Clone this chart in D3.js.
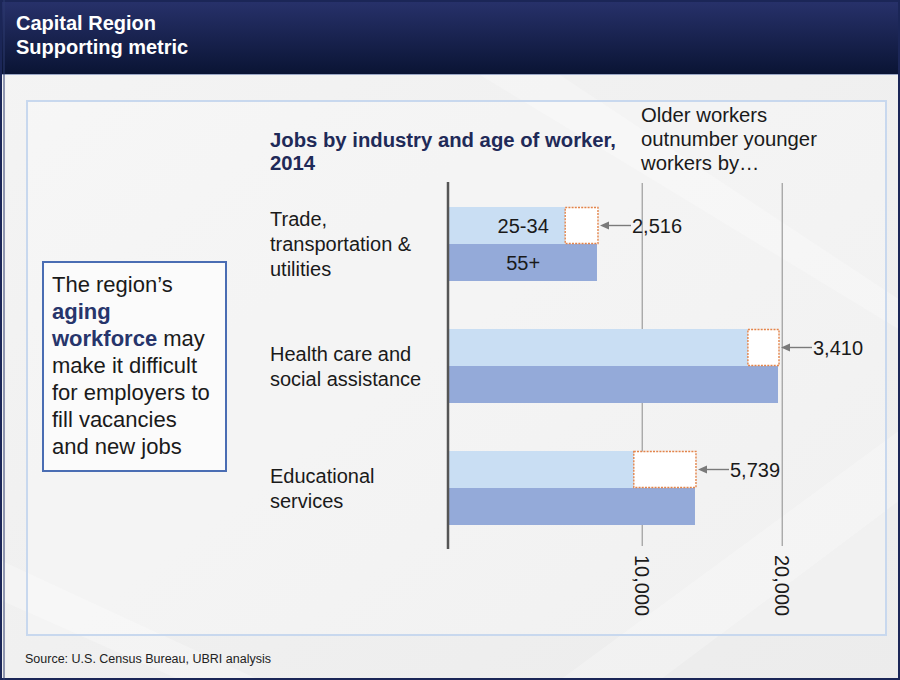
<!DOCTYPE html>
<html>
<head>
<meta charset="utf-8">
<script src="https://cdn.jsdelivr.net/npm/d3@7"></script>
<style>
  body { margin: 0; background: #fff; }
  svg { display: block; font-family: "Liberation Sans", Arial, sans-serif; }
</style>
</head>
<body>
<svg id="chart"></svg>
<script>
// data
const categories = ["Trade", "Health", "Education"];
const categoryLines = [
    ["Trade,", "transportation &", "utilities"],
    ["Health care and", "social assistance"],
    ["Educational", "services"]
];
const ageGroups = ["25-34", "55+"];
const jobsYoung = [4500, 17550, 9400];   // 25-34
const jobsOld = [6770, 19700, 13770];    // 55+
const gaps = [2516, 3410, 5739];
const tickValues = [10000, 20000];
const noteLines = ["Older workers", "outnumber younger", "workers by\u2026"];

const width = 900;
const height = 680;
const navy = "#1f2a58";

const svg = d3.select("#chart")
    .attr("width", width)
    .attr("height", height);

// background
const defs = svg.append("defs");
const hdr = defs.append("linearGradient").attr("id", "hdr")
    .attr("x1", 0).attr("y1", 0).attr("x2", 0).attr("y2", 1);
hdr.append("stop").attr("offset", "0%").attr("stop-color", "#27316a");
hdr.append("stop").attr("offset", "100%").attr("stop-color", "#0a1434");
const bg = defs.append("linearGradient").attr("id", "bg")
    .attr("x1", 0).attr("y1", 0).attr("x2", 1).attr("y2", 1);
bg.append("stop").attr("offset", "0%").attr("stop-color", "#f4f4f4");
bg.append("stop").attr("offset", "100%").attr("stop-color", "#ececec");

svg.append("rect").attr("width", width).attr("height", height).attr("fill", "url(#bg)");

// faint light streaks
const streaks = [
    [[560, 680], [900, 430], [900, 500], [660, 680]],
    [[0, 560], [260, 680], [180, 680], [0, 600]],
    [[480, 75], [900, 330], [900, 300], [560, 75]]
];
svg.selectAll(".streak")
    .data(streaks)
    .enter()
    .append("polygon")
    .attr("points", d => d.map(p => p.join(",")).join(" "))
    .attr("fill", "#ffffff")
    .attr("opacity", 0.25);

// header band
svg.append("rect").attr("x", 0).attr("y", 2).attr("width", width).attr("height", 72)
    .attr("fill", "url(#hdr)");
svg.append("line").attr("x1", 0).attr("x2", width).attr("y1", 74.5).attr("y2", 74.5)
    .attr("stroke", "#9aa6c4").attr("stroke-width", 1);
svg.append("text").attr("x", 16).attr("y", 30)
    .attr("fill", "#fff").attr("font-size", 20).attr("font-weight", "bold")
    .text("Capital Region");
svg.append("text").attr("x", 16).attr("y", 54)
    .attr("fill", "#fff").attr("font-size", 20).attr("font-weight", "bold")
    .text("Supporting metric");

// outer frame
svg.append("rect").attr("x", 1).attr("y", 1).attr("width", width - 2).attr("height", height - 2)
    .attr("fill", "none").attr("stroke", "#1b2657").attr("stroke-width", 2);
svg.append("line").attr("x1", 4).attr("x2", 4).attr("y1", 0).attr("y2", height)
    .attr("stroke", "#2d3a6e").attr("stroke-width", 1);

// inner panel
svg.append("rect").attr("x", 27).attr("y", 101).attr("width", 859).attr("height", 534)
    .attr("fill", "#ffffff").attr("fill-opacity", 0.25)
    .attr("stroke", "#c8d8ee").attr("stroke-width", 2);

// source
svg.append("text").attr("x", 25).attr("y", 663)
    .attr("font-size", 12.5).attr("fill", "#222")
    .text("Source: U.S. Census Bureau, UBRI analysis");

// left call-out box
svg.append("rect").attr("x", 43).attr("y", 262).attr("width", 183).attr("height", 209)
    .attr("fill", "#fbfbfb").attr("stroke", "#4a6db3").attr("stroke-width", 2);
const callout = svg.append("text").attr("font-size", 22).attr("fill", "#1a1a1a");
const calloutLines = [
    [["The region\u2019s", false]],
    [["aging", true]],
    [["workforce", true], [" may", false]],
    [["make it difficult", false]],
    [["for employers to", false]],
    [["fill vacancies", false]],
    [["and new jobs", false]]
];
calloutLines.forEach(function(parts, i) {
    parts.forEach(function(p, j) {
        const t = callout.append("tspan").text(p[0]);
        if (j === 0) t.attr("x", 52).attr("y", 292 + i * 27);
        if (p[1]) t.attr("font-weight", "bold").attr("fill", "#27356b");
    });
});

// chart title and note
svg.append("text").attr("font-size", 20.3).attr("font-weight", "bold").attr("fill", navy)
    .selectAll("tspan")
    .data(["Jobs by industry and age of worker,", "2014"])
    .enter()
    .append("tspan")
    .attr("x", 270)
    .attr("y", (d, i) => 147 + i * 23)
    .text(d => d);

svg.append("text").attr("font-size", 20.3).attr("fill", "#1a1a1a")
    .selectAll("tspan")
    .data(noteLines)
    .enter()
    .append("tspan")
    .attr("x", 641)
    .attr("y", (d, i) => 122 + i * 24)
    .text(d => d);

// scales
const x = d3.scaleLinear()
    .domain([-3800, 24000])
    .range([449, 838.2]);

const y = d3.scaleBand()
    .domain(categories)
    .range([183, 549])
    .paddingInner(48 / 122)
    .paddingOuter(24 / 122);

const yAge = d3.scaleBand()
    .domain(ageGroups)
    .range([0, y.bandwidth()]);

const fmt = d3.format(",");
const plot = svg.append("g");

// gridlines + rotated tick labels
const grid = plot.selectAll(".grid")
    .data(tickValues)
    .enter()
    .append("g")
    .attr("transform", d => "translate(" + x(d) + ",0)");
grid.append("line")
    .attr("y1", 183).attr("y2", 546)
    .attr("stroke", "#8a8a8a").attr("stroke-width", 1);
grid.append("text")
    .attr("transform", "translate(0,555) rotate(90)")
    .attr("dy", "0.35em")
    .attr("font-size", 20)
    .attr("fill", "#1a1a1a")
    .text(d => fmt(d));

// bars
const rows = categories.map((c, i) => ({
    cat: c, young: jobsYoung[i], old: jobsOld[i], gap: gaps[i], lines: categoryLines[i]
}));

const row = plot.selectAll(".row")
    .data(rows)
    .enter()
    .append("g")
    .attr("transform", d => "translate(0," + y(d.cat) + ")");

row.append("rect")
    .attr("x", x.range()[0])
    .attr("y", yAge("25-34"))
    .attr("width", d => x(d.young) - x.range()[0])
    .attr("height", yAge.bandwidth())
    .attr("fill", "#c9def3");

row.append("rect")
    .attr("x", x.range()[0])
    .attr("y", yAge("55+"))
    .attr("width", d => x(d.old) - x.range()[0])
    .attr("height", yAge.bandwidth())
    .attr("fill", "#94aad9");

// gap boxes
row.append("rect")
    .attr("x", d => x(d.young))
    .attr("y", yAge("25-34") + 0.5)
    .attr("width", d => x(d.old) - x(d.young) + 1)
    .attr("height", yAge.bandwidth() - 1)
    .attr("fill", "#ffffff")
    .attr("stroke", "#e3844a")
    .attr("stroke-width", 1.4)
    .attr("stroke-dasharray", "2,1.2");

// arrows + gap labels
const midY = yAge("25-34") + yAge.bandwidth() / 2;
row.append("line")
    .attr("x1", d => x(d.old) + 8)
    .attr("x2", d => x(d.old) + 34)
    .attr("y1", midY).attr("y2", midY)
    .attr("stroke", "#7a7a7a").attr("stroke-width", 1.4);
row.append("path")
    .attr("d", d => {
        const tip = x(d.old) + 3;
        return "M" + tip + "," + midY + "L" + (tip + 9) + "," + (midY - 4) + "L" + (tip + 9) + "," + (midY + 4) + "Z";
    })
    .attr("fill", "#7a7a7a");
row.append("text")
    .attr("x", d => x(d.old) + 35)
    .attr("y", midY)
    .attr("dy", "0.35em")
    .attr("font-size", 20)
    .attr("fill", "#1a1a1a")
    .text(d => fmt(d.gap));

// category labels
row.append("text")
    .attr("font-size", 20)
    .attr("fill", "#1a1a1a")
    .selectAll("tspan")
    .data(d => d.lines)
    .enter()
    .append("tspan")
    .attr("x", 270)
    .attr("y", function(d, i, nodes) {
        return y.bandwidth() / 2 + 7 - (nodes.length - 1) * 12.5 + i * 25;
    })
    .text(d => d);

// age labels on first row only
const first = row.filter((d, i) => i === 0);
ageGroups.forEach(function(a) {
    first.append("text")
        .attr("x", d => x(d.young) - 42)
        .attr("y", yAge(a) + yAge.bandwidth() / 2)
        .attr("dy", "0.35em")
        .attr("text-anchor", "middle")
        .attr("font-size", 20)
        .attr("fill", "#1a1a1a")
        .text(a);
});

// category axis line
plot.append("line")
    .attr("x1", x.range()[0] - 1).attr("x2", x.range()[0] - 1)
    .attr("y1", y.range()[0] - 1).attr("y2", y.range()[1])
    .attr("stroke", "#555").attr("stroke-width", 2.5);
</script>
</body>
</html>
